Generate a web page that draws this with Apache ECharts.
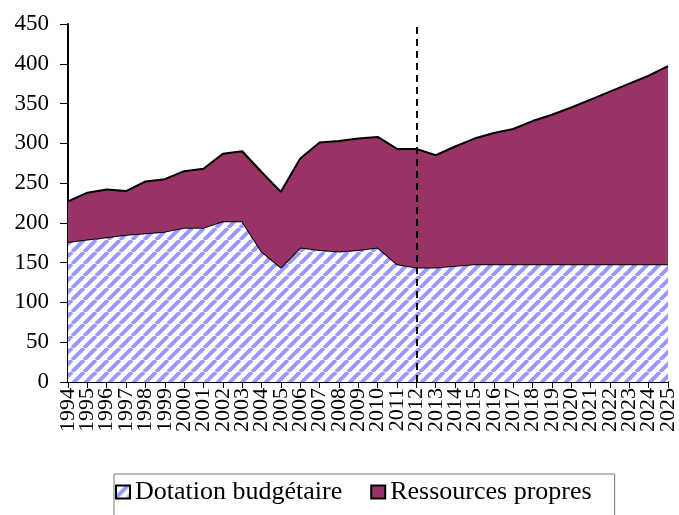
<!DOCTYPE html>
<html>
<head>
<meta charset="utf-8">
<script src="https://cdn.jsdelivr.net/npm/echarts@6/dist/echarts.min.js"></script>
<style>
  html, body { margin: 0; padding: 0; background: #fff; }
  #chart { width: 679px; height: 515px; }
</style>
</head>
<body>
<div id="chart"></div>
<script>
const years = ['1994','1995','1996','1997','1998','1999','2000','2001','2002','2003','2004','2005','2006','2007','2008','2009','2010','2011','2012','2013','2014','2015','2016','2017','2018','2019','2020','2021','2022','2023','2024','2025']
// dotation budgétaire (partie basse)
const dotation = [176, 179, 182, 185, 187, 189, 194, 194, 202, 202, 164, 144, 169, 166, 164, 166, 169, 148, 144, 144, 146, 148, 148, 148, 148, 148, 148, 148, 148, 148, 148, 148]
// total (haut de la pile)
const total = [227, 238, 242, 240, 252, 255, 265, 268, 287, 290, 264, 239, 281, 301, 303, 306, 308, 293, 293, 285, 296, 306, 313, 318, 328, 336, 345, 355, 365, 375, 385, 397]
const ressources = total.map((v, i) => v - dotation[i])
const yTicks = [0, 50, 100, 150, 200, 250, 300, 350, 400, 450]
const splitYear = '2012'

// hachures bleues
const makeHatch = () => {
  const s = 12
  const c = document.createElement('canvas')
  c.width = s
  c.height = s
  const ctx = c.getContext('2d')
  ctx.fillStyle = '#fff'
  ctx.fillRect(0, 0, s, s)
  ctx.strokeStyle = '#9999ff'
  ctx.lineWidth = 4
  ;[-s, 0, s].forEach(o => {
    ctx.beginPath()
    ctx.moveTo(o, s)
    ctx.lineTo(o + s, 0)
    ctx.stroke()
  })
  return c
}
const hatch = { image: makeHatch(), repeat: 'repeat' }

const chart = echarts.init(document.getElementById('chart'))
const font = 'Liberation Serif'
chart.setOption({
  animation: false,
  grid: { left: 68, right: 10, top: 24, bottom: 133 },
  legend: {
    left: 114,
    top: 474,
    padding: [5, 23, 20, 1],
    borderColor: '#777',
    borderWidth: 1,
    itemGap: 28,
    itemWidth: 14,
    itemHeight: 13,
    icon: 'rect',
    lineStyle: { opacity: 0 },
    textStyle: { fontFamily: font, fontSize: 26, color: '#000' },
    data: ['Dotation budgétaire', 'Ressources propres']
  },
  xAxis: {
    type: 'category',
    data: years,
    boundaryGap: false,
    axisLine: { lineStyle: { color: '#000', width: 2 } },
    axisTick: { show: true, length: 6, lineStyle: { color: '#000' }, interval: 0 },
    axisLabel: { rotate: 90, interval: 0, margin: 6, fontFamily: font, fontSize: 22, color: '#000' },
    splitLine: { show: false }
  },
  yAxis: {
    type: 'value',
    min: 0,
    max: 450,
    interval: 50,
    axisLine: { show: true, lineStyle: { color: '#000', width: 2 } },
    axisTick: { show: true, length: 8, lineStyle: { color: '#000' } },
    axisLabel: {
      margin: 19, fontFamily: font, fontSize: 23, color: '#000',
      formatter: v => yTicks.includes(v) ? String(v) : ''
    },
    splitLine: { show: false }
  },
  series: [
    {
      name: 'Dotation budgétaire',
      type: 'line',
      stack: 'total',
      data: dotation,
      symbol: 'none',
      lineStyle: { color: '#000', width: 2 },
      itemStyle: { color: hatch, borderColor: '#000', borderWidth: 1 },
      areaStyle: { color: hatch, opacity: 1 },
      z: 2
    },
    {
      name: 'Ressources propres',
      type: 'line',
      stack: 'total',
      data: ressources,
      symbol: 'none',
      lineStyle: { color: '#000', width: 2 },
      itemStyle: { color: '#993366', borderColor: '#000', borderWidth: 1 },
      areaStyle: { color: '#993366', opacity: 1 },
      z: 3,
      markLine: {
        silent: true,
        symbol: 'none',
        label: { show: false },
        lineStyle: { color: '#000', type: [7, 5], width: 2 },
        data: [{ xAxis: splitYear }]
      }
    }
  ]
})
</script>
</body>
</html>
